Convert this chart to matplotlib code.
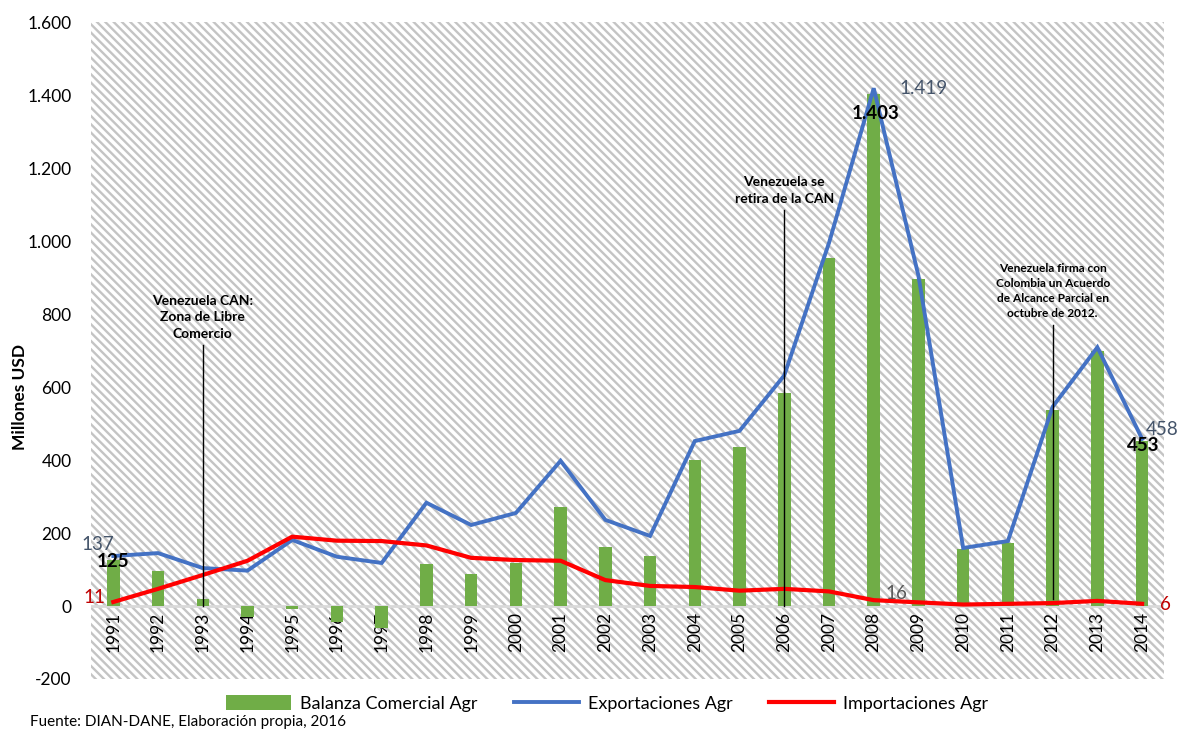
import matplotlib
matplotlib.use('Agg')
import matplotlib.pyplot as plt
from matplotlib.patches import Rectangle
from matplotlib.lines import Line2D
from matplotlib.patches import Patch
from matplotlib.ticker import FuncFormatter

plt.rcParams['font.family'] = ['Lato', 'DejaVu Sans']
plt.rcParams['hatch.linewidth'] = 1.7

# datos (millones USD)
years = [str(y) for y in range(1991, 2015)]
balanza = [125, 96, 19, -30, -8, -44, -60, 115, 88, 118, 270, 163, 137,
           401, 437, 585, 953, 1403, 895, 156, 172, 538, 700, 453]
exportaciones = [137, 145, 104, 97, 181, 135, 118, 283, 222, 255, 398, 236, 192,
                 452, 480, 632, 995, 1419, 905, 159, 178, 546, 709, 458]
importaciones = [11, 47, 85, 124, 190, 179, 178, 166, 132, 126, 124, 71, 55,
                 52, 42, 47, 40, 16, 10, 4, 6, 8, 14, 6]

# hitos: (año, y inicio, y fin, texto, tamaño)
eventos = [('1993', 0, 715, 'Venezuela CAN:\nZona de Libre\nComercio', 10),
           ('2006', 0, 1085, 'Venezuela se\nretira de la CAN', 10),
           ('2012', 20, 770, 'Venezuela firma con\nColombia un Acuerdo\nde Alcance Parcial en\noctubre de 2012.', 8.6)]

verde = '#70ad47'
azul = '#4472c4'
rojo = '#ff0000'
azul_osc = '#44546a'

fig = plt.figure(figsize=(11.81, 7.33), dpi=100)
ax = fig.add_axes([0.077, 0.0737, 0.909, 0.896])
ax.set_facecolor('white')
ax.add_patch(Rectangle((0, 0), 1, 1, transform=ax.transAxes, facecolor='white',
                       edgecolor='#c4c4c4', hatch='\\\\\\\\', lw=0, zorder=0))

ax.bar(years, balanza, width=0.28, color=verde, zorder=3)
ax.plot(years, exportaciones, color=azul, lw=2.8, zorder=4, solid_joinstyle='miter')
ax.plot(years, importaciones, color=rojo, lw=3.0, zorder=5, solid_joinstyle='round')
ax.axhline(0, color='#d9d9d9', lw=2, zorder=2)

ax.set_ylim(-200, 1600)
ax.set_xlim(-0.5, len(years) - 0.5)
ax.set_yticks(range(-200, 1601, 200))
ax.yaxis.set_major_formatter(FuncFormatter(lambda v, p: f'{int(v):,}'.replace(',', '.')))
for s in ax.spines.values():
    s.set_visible(False)
ax.spines['bottom'].set_position(('data', 0))
ax.tick_params(axis='y', length=0, pad=14, labelsize=12.5)
ax.tick_params(axis='x', length=0, pad=4, labelsize=12.5, labelrotation=90)

# hitos
for yr, y0, y1, txt, fs in eventos:
    ax.plot([yr, yr], [y0, y1], color='black', lw=1, zorder=6)
    ax.annotate(txt, xy=(yr, y1), xytext=(0, 4), textcoords='offset points',
                ha='center', va='bottom', fontsize=fs, fontweight='bold',
                linespacing=1.45, zorder=7)

# etiquetas de datos
def etiqueta(txt, x, y, dx, dy, color, bold=False):
    ax.annotate(txt, xy=(x, y), xytext=(dx, dy), textcoords='offset points',
                ha='center', va='center', fontsize=13.5, color=color,
                fontweight='bold' if bold else 'normal', zorder=8)

etiqueta('137', '1991', exportaciones[0], -11.5, 8, azul_osc)
etiqueta('125', '1991', balanza[0], 0, -1, 'black', True)
etiqueta('11', '1991', importaciones[0], -13.5, 3, '#c00000')
etiqueta('1.419', '2008', exportaciones[17], 36, 0, azul_osc)
etiqueta('1.403', '2008', balanza[17], 1.5, -14, 'black', True)
etiqueta('16', '2008', importaciones[17], 16.5, 4.5, '#595959')
etiqueta('458', '2014', exportaciones[23], 14.5, 7, azul_osc)
etiqueta('453', '2014', balanza[23], 1, -3.5, 'black', True)
etiqueta('6', '2014', importaciones[23], 17, -0.5, '#c00000')

fig.text(0.017, 0.458, 'Millones USD', rotation=90, ha='center', va='center',
         fontsize=12.5, fontweight='bold')

handles = [Patch(facecolor=verde, label='Balanza Comercial Agr'),
           Line2D([], [], color=azul, lw=2.8, label='Exportaciones Agr'),
           Line2D([], [], color=rojo, lw=3, label='Importaciones Agr')]
fig.legend(handles=handles, loc='center', bbox_to_anchor=(0.514, 0.04), ncol=3,
           frameon=False, fontsize=13, handlelength=3.6, handleheight=0.9,
           columnspacing=2.0, handletextpad=0.5)

fig.text(0.025, 0.015, 'Fuente: DIAN-DANE, Elaboración propia, 2016', fontsize=11,
         ha='left', va='center')

fig.savefig('out.png', dpi=100)
